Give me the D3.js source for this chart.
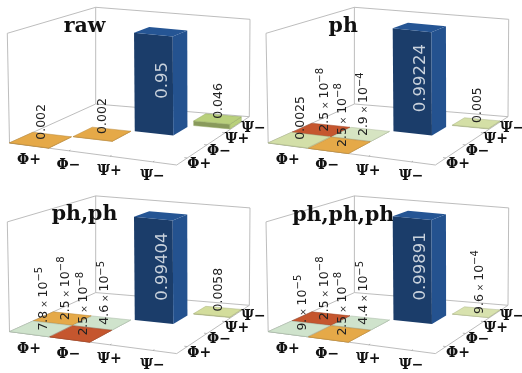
<!DOCTYPE html>
<html lang="en">
<head>
    <meta charset="UTF-8">
    <title>Bell state bars</title>
    <script src="https://d3js.org/d3.v7.min.js"></script>
    <style>
        html, body { margin: 0; padding: 0; background: #fff; }
        svg { display: block; filter: blur(0.35px); }
        .title { font-family: "DejaVu Serif", serif; font-weight: bold; font-size: 20.5px; fill: #111; text-anchor: middle; }
        .tick-label { font-family: "DejaVu Serif", serif; font-weight: bold; font-size: 14px; fill: #111; text-anchor: middle; }
        .value { font-family: "DejaVu Sans", sans-serif; font-size: 12.5px; fill: #222; }
        .value.big { font-size: 16.5px; fill: #c9d2dc; }
    </style>
</head>
<body>
    <svg id="chart" width="522" height="373"></svg>
    <script>
        const width = 522;
        const height = 373;

        // Data
        const basis = ["Φ+", "Φ−", "Ψ+", "Ψ−"];
        const titles = ["raw", "ph", "ph,ph", "ph,ph,ph"];

        // cells of the density matrix that have a bar
        const rawCols = [0, 1, 2, 3];
        const rawRows = [0, 1, 2, 3];
        const rawValues = [0.002, 0.002, 0.95, 0.046];

        const cols = [0, 0, 1, 1, 2, 3];
        const rows = [0, 1, 0, 1, 2, 3];
        const phValues = [0.0025, 2.5e-8, 2.5e-8, 2.9e-4, 0.99224, 0.005];
        const phPhValues = [7.8e-5, 2.5e-8, 2.5e-8, 4.6e-5, 0.99404, 0.0058];
        const phPhPhValues = [9e-5, 2.5e-8, 2.5e-8, 4.4e-5, 0.99891, 9.6e-4];

        // Colours per bar, same order as the values
        const orange = "#e5a948", red = "#c5562e", blue = "#24528f";
        const rawFills = [orange, orange, blue, "#b9d07c"];
        const phFills = ["#d3dfa8", red, orange, "#d6e4c2", blue, "#d4dfa6"];
        const phPhFills = ["#cfe3cc", orange, red, "#cfe3cc", blue, "#d3dd9c"];
        const phPhPhFills = ["#cfe3cc", red, orange, "#cfe3cc", blue, "#d8e2ae"];

        const panels = [
            { title: titles[0], cols: rawCols, rows: rawRows, values: rawValues, fills: rawFills, dx: 0, dy: 0, titleY: 32 },
            { title: titles[1], cols, rows, values: phValues, fills: phFills, dx: 258.7, dy: 0, titleY: 32 },
            { title: titles[2], cols, rows, values: phPhValues, fills: phPhFills, dx: 0, dy: 188.6, titleY: 31.5 },
            { title: titles[3], cols, rows, values: phPhPhValues, fills: phPhPhFills, dx: 258.7, dy: 188.6, titleY: 32.5 }
        ];

        // Box corners as they land on the page for the first panel
        const frontLeft = [9.5, 143], frontRight = [176.7, 165], backRight = [249.3, 116.7], backLeft = [95.7, 104];
        const frontLeftTop = [7.3, 33.3], backLeftTop = [95.7, 7.3], backRightTop = [250, 19.3];

        // Floor plane: unit square to quad
        function floorMatrix(p0, p1, p2, p3) {
            const dx1 = p1[0] - p2[0], dx2 = p3[0] - p2[0], sx = p0[0] - p1[0] + p2[0] - p3[0];
            const dy1 = p1[1] - p2[1], dy2 = p3[1] - p2[1], sy = p0[1] - p1[1] + p2[1] - p3[1];
            const den = dx1 * dy2 - dx2 * dy1;
            const g = (sx * dy2 - dx2 * sy) / den;
            const h = (dx1 * sy - sx * dy1) / den;
            return {
                a: p1[0] - p0[0] + g * p1[0], b: p3[0] - p0[0] + h * p3[0], c: p0[0],
                d: p1[1] - p0[1] + g * p1[1], e: p3[1] - p0[1] + h * p3[1], f: p0[1],
                g, h
            };
        }
        const m = floorMatrix(frontLeft, frontRight, backRight, backLeft);

        // How far up a full-height edge goes, from the three upright edges we can see
        const rise = (bottom, top) => [top[0] - bottom[0], top[1] - bottom[1]];
        const riseFL = rise(frontLeft, frontLeftTop), riseBL = rise(backLeft, backLeftTop), riseBR = rise(backRight, backRightTop);

        const cellIndex = [0, 1, 2, 3];
        const xStart = d3.scaleLinear().domain(cellIndex).range([0, 0.272, 0.54, 0.79]);
        const xEnd = d3.scaleLinear().domain(cellIndex).range([0.265, 0.52, 0.77, 0.995]);
        const yStart = d3.scaleLinear().domain(cellIndex).range([0, 0.25, 0.48, 0.71]);
        const yEnd = d3.scaleLinear().domain(cellIndex).range([0.242, 0.47, 0.67, 0.885]);
        const zScale = d3.scaleLinear().domain([0, 1]).range([0, 1]);
        const xTickPos = [0.138, 0.394, 0.64, 0.877];
        const yTickPos = [0.125, 0.375, 0.625, 0.875];

        function place(u, v, t) {
            const w = m.g * u + m.h * v + 1;
            const rx = riseFL[0] + u * (riseBR[0] - riseBL[0]) + v * (riseBL[0] - riseFL[0]);
            const ry = riseFL[1] + u * (riseBR[1] - riseBL[1]) + v * (riseBL[1] - riseFL[1]);
            return [
                (m.a * u + m.b * v + m.c) / w + t * rx,
                (m.d * u + m.e * v + m.f) / w + t * ry
            ];
        }

        const line = d3.line();
        const closed = pts => line(pts) + "Z";

        function valueParts(v) {
            if (v >= 0.001) return { text: String(v) };
            const [mant, exp] = v.toExponential().split("e");
            return { text: (mant.includes(".") ? mant : mant + "."), exp: String(+exp).replace("-", "−") };
        }

        const svg = d3.select("#chart")
            .attr("width", width)
            .attr("height", height);

        panels.forEach(p => {
            const g = svg.append("g").attr("transform", `translate(${p.dx},${p.dy})`);

            // Box
            const box = [
                [[0, 0, 0], [1, 0, 0]], [[1, 0, 0], [1, 1, 0]], [[1, 1, 0], [0, 1, 0]], [[0, 1, 0], [0, 0, 0]],
                [[0, 0, 0], [0, 0, 1]], [[0, 1, 0], [0, 1, 1]], [[1, 1, 0], [1, 1, 1]],
                [[0, 0, 1], [0, 1, 1]], [[0, 1, 1], [1, 1, 1]]
            ];
            g.append("g").selectAll("path")
                .data(box)
                .enter()
                .append("path")
                .attr("d", d => line(d.map(q => place(...q))))
                .attr("fill", "none")
                .attr("stroke", "#b5b5b5")
                .attr("stroke-width", 0.9);

            // Ticks
            g.append("g").selectAll("path.x")
                .data(xTickPos)
                .enter()
                .append("path")
                .attr("d", u => line([place(u, 0, 0), place(u, 0.015, 0)]))
                .attr("stroke", "#a5a5a5")
                .attr("stroke-width", 0.8);
            g.append("g").selectAll("path.y")
                .data(yTickPos)
                .enter()
                .append("path")
                .attr("d", v => line([place(1, v, 0), place(0.985, v, 0)]))
                .attr("stroke", "#a5a5a5")
                .attr("stroke-width", 0.8);

            // Title goes behind the bars
            g.append("text")
                .attr("class", "title")
                .attr("x", 84.5)
                .attr("y", p.titleY)
                .text(p.title);

            // Bars, far ones first
            const bars = p.values.map((v, i) => ({ v, col: p.cols[i], row: p.rows[i], fill: p.fills[i] }))
                .sort((a, b) => (b.row - a.row) || (a.col - b.col));

            bars.forEach(b => {
                const u0 = xStart(b.col), u1 = xEnd(b.col), v0 = yStart(b.row), v1 = yEnd(b.row), t = zScale(b.v);
                const bar = g.append("g");
                const frontFill = d3.color(b.fill).darker(0.85).formatHex();
                const edge = b.v > 0.5 ? "none" : d3.color(b.fill).darker(0.6).formatHex();
                bar.append("path")
                    .attr("d", closed([place(u0, v0, 0), place(u1, v0, 0), place(u1, v0, t), place(u0, v0, t)]))
                    .attr("fill", frontFill)
                    .attr("stroke", edge)
                    .attr("stroke-width", 0.5);
                bar.append("path")
                    .attr("d", closed([place(u1, v0, 0), place(u1, v1, 0), place(u1, v1, t), place(u1, v0, t)]))
                    .attr("fill", b.fill)
                    .attr("stroke", edge)
                    .attr("stroke-width", 0.5);
                bar.append("path")
                    .attr("d", closed([place(u0, v0, t), place(u1, v0, t), place(u1, v1, t), place(u0, v1, t)]))
                    .attr("fill", b.v > 0.5 ? d3.color(b.fill).brighter(0.1).formatHex() : b.fill)
                    .attr("stroke", edge)
                    .attr("stroke-width", 0.5);
            });

            // Axis labels
            g.append("g").selectAll("text.front")
                .data(basis)
                .enter()
                .append("text")
                .attr("class", "tick-label")
                .attr("transform", (d, i) => {
                    const q = place(xTickPos[i], 0, 0);
                    return `translate(${q[0] - 0.5},${q[1] + 18.5})`;
                })
                .text(d => d);
            g.append("g").selectAll("text.side")
                .data(basis)
                .enter()
                .append("text")
                .attr("class", "tick-label")
                .attr("transform", (d, i) => {
                    const q = place(1, yTickPos[i], 0);
                    return `translate(${q[0] + 12},${q[1] + 10})`;
                })
                .text(d => d);

            // Value labels, turned upright
            bars.forEach(b => {
                const big = b.v > 0.5;
                const q = place((xStart(b.col) + xEnd(b.col)) / 2, (yStart(b.row) + yEnd(b.row)) / 2, zScale(big ? b.v / 2 : b.v));
                const parts = valueParts(b.v);
                // the superscript pushes these a little to the right and down
                const shift = parts.exp ? 2 : 0;
                const t = g.append("text")
                    .attr("class", big ? "value big" : "value")
                    .attr("text-anchor", big ? "middle" : "start")
                    .attr("transform", `translate(${q[0] + shift},${q[1] + shift}) rotate(-90)`)
                    .attr("dy", "0.36em");
                t.append("tspan").text(parts.text);
                if (parts.exp) {
                    t.append("tspan").attr("font-size", "9px").text(" × ");
                    t.append("tspan").text("10");
                    t.append("tspan").attr("font-size", "10px").attr("dy", "-0.45em").text(parts.exp);
                }
            });
        });
    </script>
</body>
</html>
